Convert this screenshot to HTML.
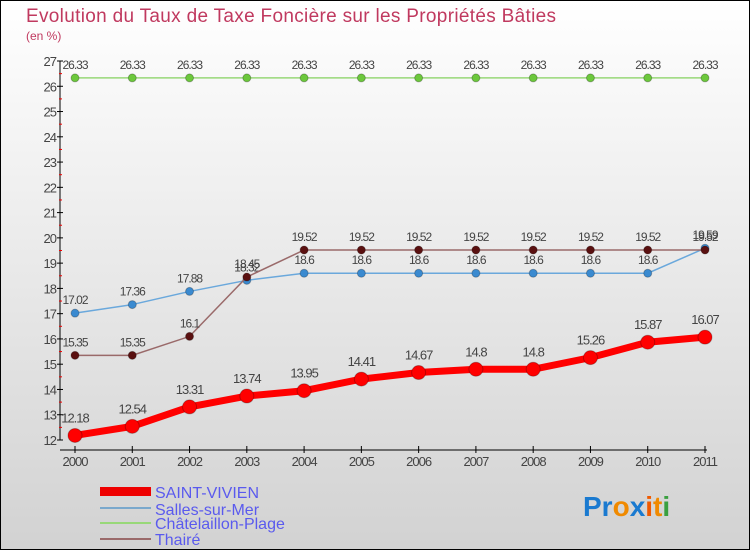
<!DOCTYPE html>
<html><head><meta charset="utf-8"><style>
body{margin:0}
#c{width:750px;height:550px;position:relative;box-sizing:border-box;border:1px solid #000;background:linear-gradient(#fff,#d2d2d2);font-family:"Liberation Sans",sans-serif;overflow:hidden}
</style></head><body>
<div id="c">
<svg id="s" width="750" height="550" style="position:absolute;left:-1px;top:-1px">
<text x="26" y="22" font-size="19" fill="#c0395f" textLength="530">Evolution du Taux de Taxe Foncière sur les Propriétés Bâties</text>
<text x="26" y="40" font-size="12" fill="#c0395f">(en %)</text>
<g id="axes"></g><g id="series"></g>
<g>
<rect x="100" y="487" width="51" height="9" fill="#e00"/>
<text x="155" y="498" font-size="16" fill="#5a5aee">SAINT-VIVIEN</text>
<rect x="100" y="507" width="51" height="2" fill="#7aa8cc"/>
<text x="155" y="515" font-size="16" fill="#5a5aee">Salles-sur-Mer</text>
<rect x="100" y="522" width="51" height="2" fill="#98d878"/>
<text x="155" y="529" font-size="16" fill="#5a5aee">Châtelaillon-Plage</text>
<rect x="100" y="538" width="51" height="2" fill="#9a6a6a"/>
<text x="155" y="545" font-size="16" fill="#5a5aee">Thairé</text>
</g>
<text x="583" y="516" font-size="28" font-weight="bold"><tspan fill="#1a7ad0">Pr</tspan><tspan fill="#f08a00">o</tspan><tspan fill="#1a7ad0">x</tspan><tspan fill="#f05a00">i</tspan><tspan fill="#f08a00">t</tspan><tspan fill="#3aa040">i</tspan></text>
</svg>
</div>
<script>
const years=[2000,2001,2002,2003,2004,2005,2006,2007,2008,2009,2010,2011];
const yTicks=[12,13,14,15,16,17,18,19,20,21,22,23,24,25,26,27];
const saintVivien=[12.18,12.54,13.31,13.74,13.95,14.41,14.67,14.8,14.8,15.26,15.87,16.07];
const salles=[17.02,17.36,17.88,18.32,18.6,18.6,18.6,18.6,18.6,18.6,18.6,19.59];
const chatel=[26.33,26.33,26.33,26.33,26.33,26.33,26.33,26.33,26.33,26.33,26.33,26.33];
const thaire=[15.35,15.35,16.1,18.45,19.52,19.52,19.52,19.52,19.52,19.52,19.52,19.52];
const NS="http://www.w3.org/2000/svg";
const X=i=>75+i*(630/11);
const Y=v=>440-(v-12)*(379/15);
function mk(tag,at,parent,txt){const e=document.createElementNS(NS,tag);for(const k in at)e.setAttribute(k,at[k]);if(txt!==undefined)e.textContent=txt;parent.appendChild(e);return e;}
const ax=document.getElementById('axes');
let l=mk('line',{x1:60,y1:Y(27),x2:60,y2:Y(12),stroke:'#000'},ax);


l=mk('line',{x1:60,y1:450,x2:707,y2:450,stroke:'#000'},ax);


yTicks.forEach(v=>{
  mk('line',{x1:57,x2:63,y1:Y(v),y2:Y(v),stroke:'#000'},ax);
  if(v<27)mk('line',{x1:59,x2:62,y1:Y(v+0.5),y2:Y(v+0.5),stroke:'#e00'},ax);
  const t=mk('text',{x:56,y:Y(v)+5,'font-size':13,fill:'#444','text-anchor':'end','letter-spacing':'-1'},ax,v);
  
  
});
years.forEach((yr,i)=>{
  mk('line',{x1:X(i),x2:X(i),y1:446,y2:453,stroke:'#000'},ax);
  const t=mk('text',{x:X(i),y:466,'font-size':13,fill:'#444','text-anchor':'middle','letter-spacing':'-1'},ax,yr);
  
  
});
const sg=document.getElementById('series');
function series(name,vals,color,dot,lw,r,fs,off){
  const g=mk('g',{},sg);
  
  
  mk('polyline',{points:vals.map((v,i)=>X(i)+','+Y(v)).join(' '),fill:'none',stroke:color,'stroke-width':lw},g);
  vals.forEach((v,i)=>{
    const c=mk('circle',{cx:X(i),cy:Y(v),r:r,fill:dot,stroke:'rgba(0,0,0,0.25)'},g);
    
    
    const t=mk('text',{x:X(i),y:Y(v)-off,'font-size':fs,fill:'#444','text-anchor':'middle','letter-spacing':'-1'},g,v);
    
    
  });
}
series('chatelaillon-plage',chatel,'#98d878','#6cc83c',1.5,4,12,9);
series('salles-sur-mer',salles,'#6aa8dc','#3a8ad0',1.5,4,12,9);
series('thaire',thaire,'#9a6a6a','#5a1010',1.5,4,12,9);
series('saint-vivien',saintVivien,'#f00','#f00',7,7,13,13);
</script>
</body></html>
